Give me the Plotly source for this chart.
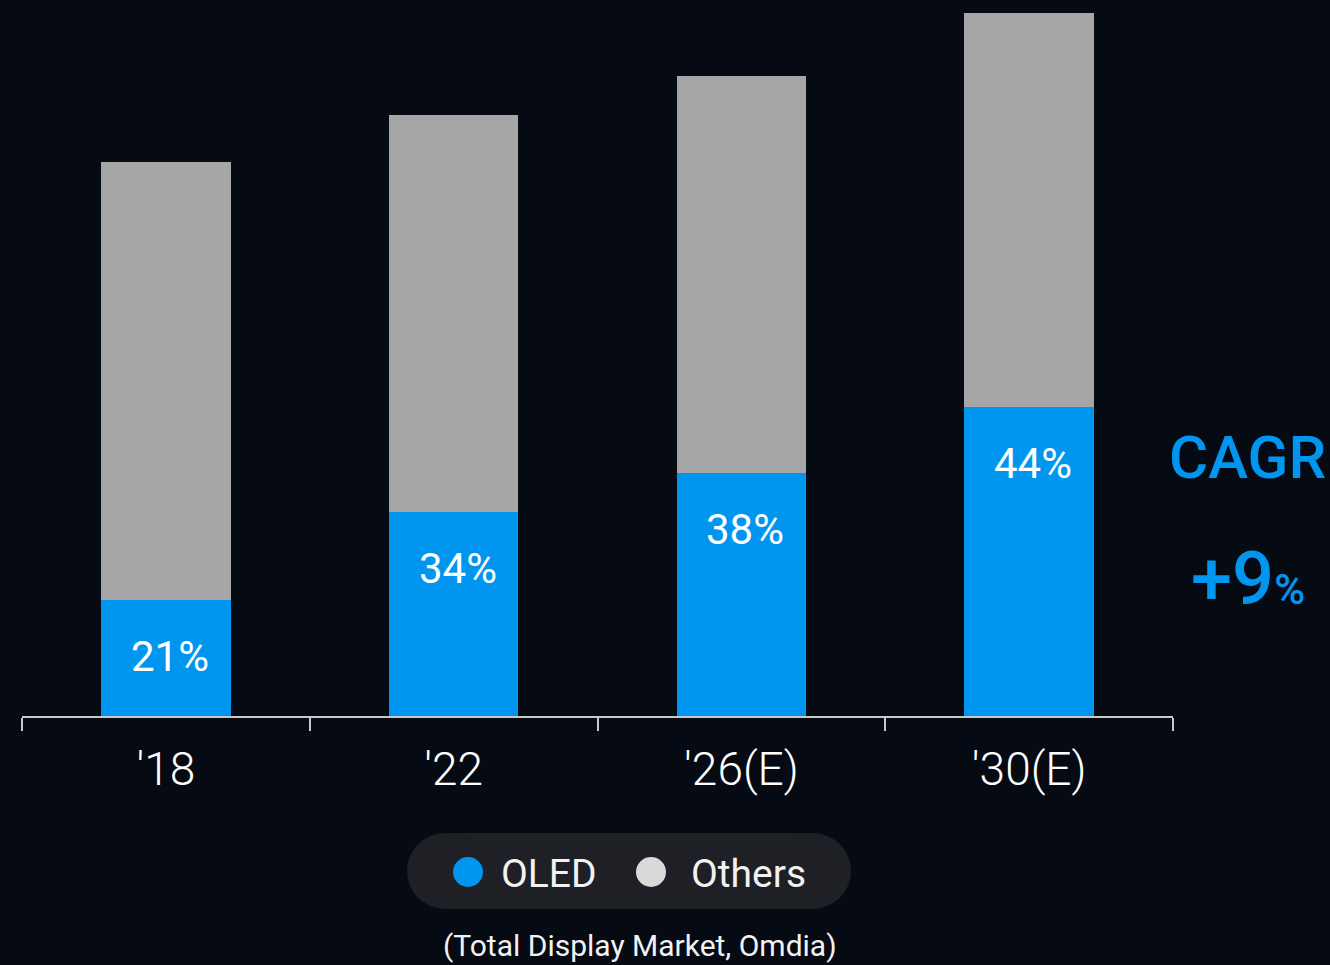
import plotly.graph_objects as go

# ---- data ----
categories = ["'18", "'22", "'26(E)", "'30(E)"]
total_market = [554, 601, 640, 703]          # relative total display market size
oled_share = [21, 34, 38, 44]                 # OLED share in %
oled_values = [t * s / 100 for t, s in zip(total_market, oled_share)]
others_values = [t - o for t, o in zip(total_market, oled_values)]
series_names = ["OLED", "Others"]
cagr_label = "CAGR"
cagr_value = "+9"
source_text = "(Total Display Market, Omdia)"

BLUE = "#0096F0"
GRAY = "#A6A6A6"
BG = "#060A12"
FONT = "Roboto"

fig = go.Figure()
fig.add_trace(go.Bar(x=categories, y=oled_values, name=series_names[0],
                     marker=dict(color=BLUE, line=dict(width=0)), width=0.45,
                     showlegend=False, hoverinfo="skip"))
fig.add_trace(go.Bar(x=categories, y=others_values, name=series_names[1],
                     marker=dict(color=GRAY, line=dict(width=0)), width=0.45,
                     showlegend=False, hoverinfo="skip"))

annotations = []
for c, v, s in zip(categories, oled_values, oled_share):
    annotations.append(dict(x=c, y=v, xref="x", yref="y", text=f"{s}%",
                            showarrow=False, yanchor="middle", yshift=-57, xshift=4,
                            font=dict(family=FONT, size=42, color="white", weight=400)))

# CAGR text
annotations.append(dict(x=1.065, y=0.367, xref="paper", yref="paper", text=cagr_label,
                        showarrow=False, xanchor="center", yanchor="middle",
                        font=dict(family=FONT, size=60, color=BLUE, weight=500)))
annotations.append(dict(x=1.065, y=0.196, xref="paper", yref="paper",
                        text=f"{cagr_value}<span style='font-size:42px'>%</span>",
                        showarrow=False, xanchor="center", yanchor="middle",
                        font=dict(family=FONT, size=74, color=BLUE, weight=500)))

# legend (custom pill)
px_w, px_h = 1151.0, 703.0
def px2paper_x(px):
    return (px - 22) / px_w
def px2paper_y(py):
    return (716 - py) / px_h

shapes = []
pill_y0, pill_y1 = px2paper_y(909), px2paper_y(833)
shapes.append(dict(type="rect", xref="paper", yref="paper",
                   x0=px2paper_x(445), x1=px2paper_x(813), y0=pill_y0, y1=pill_y1,
                   fillcolor="#1E2026", line=dict(width=0), layer="below"))
for cx in (445, 813):
    shapes.append(dict(type="circle", xref="paper", yref="paper",
                       xsizemode="pixel", ysizemode="pixel",
                       xanchor=px2paper_x(cx), yanchor=px2paper_y(871),
                       x0=-38, x1=38, y0=-38, y1=38,
                       fillcolor="#1E2026", line=dict(width=0), layer="below"))
for cx, col in ((468, BLUE), (651, "#D9D9D9")):
    shapes.append(dict(type="circle", xref="paper", yref="paper",
                       xsizemode="pixel", ysizemode="pixel",
                       xanchor=px2paper_x(cx), yanchor=px2paper_y(872),
                       x0=-15, x1=15, y0=-15, y1=15,
                       fillcolor=col, line=dict(width=0)))
for name, lx in zip(series_names, (499, 689)):
    annotations.append(dict(x=px2paper_x(lx), y=px2paper_y(874), xref="paper", yref="paper",
                            text=name, showarrow=False, xanchor="left", yanchor="middle",
                            font=dict(family=FONT, size=39, color="#F2F2F2", weight=400)))

annotations.append(dict(x=px2paper_x(640), y=px2paper_y(946), xref="paper", yref="paper",
                        text=source_text, showarrow=False, xanchor="center", yanchor="middle",
                        font=dict(family=FONT, size=30, color="#F2F2F2", weight=400)))

fig.update_layout(
    barmode="stack",
    width=1330, height=965,
    margin=dict(l=22, r=157, t=13, b=249),
    paper_bgcolor=BG, plot_bgcolor=BG,
    annotations=annotations,
    shapes=shapes,
    xaxis=dict(showgrid=False, zeroline=False, showline=True, linecolor="#C8C8C8",
               linewidth=2, ticks="outside", tickson="boundaries", ticklen=13,
               tickwidth=2, tickcolor="#C8C8C8", ticklabelstandoff=12,
               tickfont=dict(family=FONT, size=46, color="white", weight=300),
               fixedrange=True),
    yaxis=dict(range=[0, 703], visible=False, showgrid=False, zeroline=False, fixedrange=True),
    showlegend=False,
)

fig.write_html("out.html", config=dict(displayModeBar=False))
